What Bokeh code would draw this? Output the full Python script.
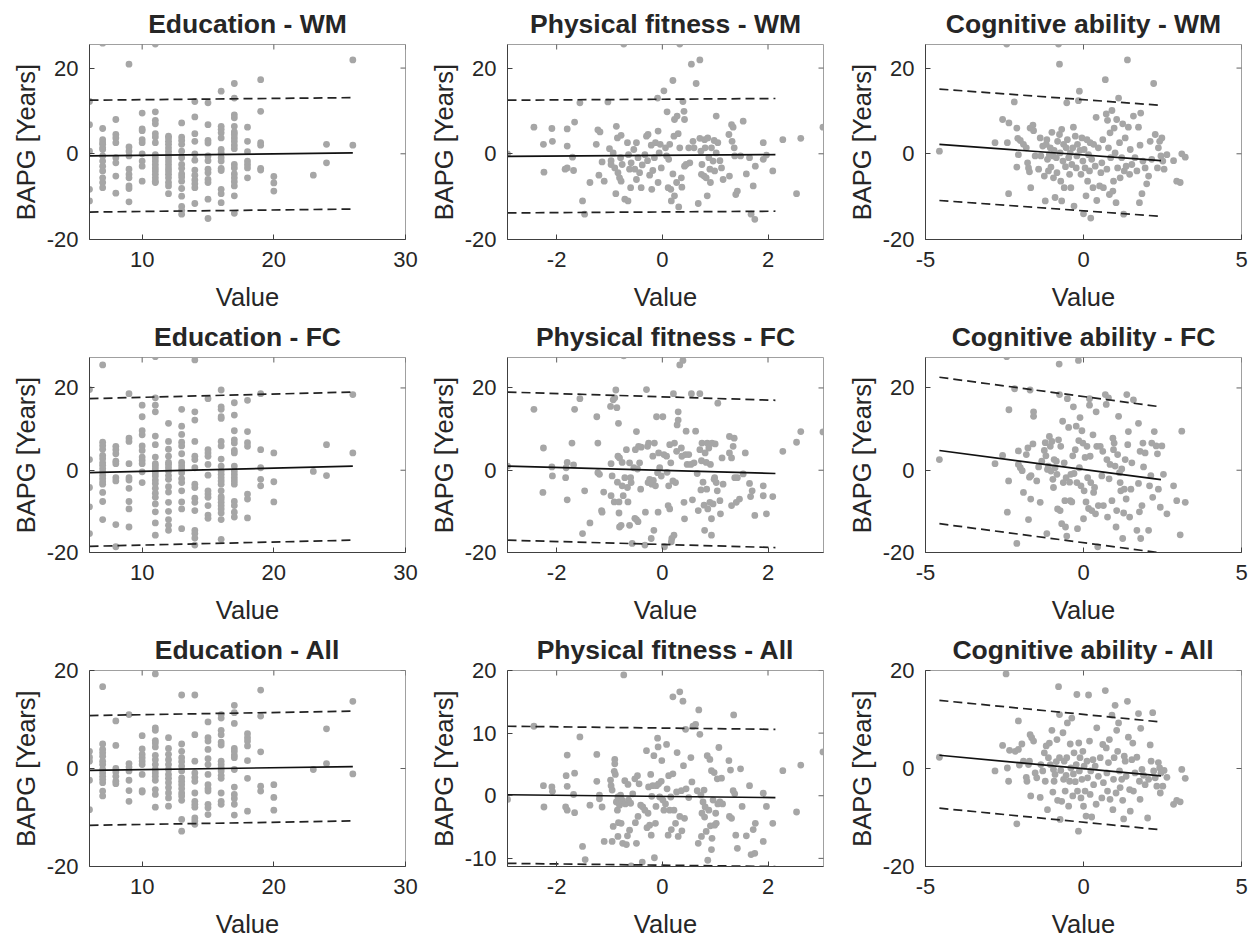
import math
from bokeh.plotting import figure
from bokeh.layouts import gridplot
from bokeh.models import FixedTicker, Range1d
from bokeh.embed import file_html
from bokeh.resources import INLINE

# ---------------- data ----------------
# Education panels: y values grouped by years of education (x)
edu_wm_cols = {
    6: [12.2, 6.8, 0.6, -8.3, -11.0],
    7: [25.8, 5.9, 3.3, 2.6, 2.2, 1.4, 1.0, -0.5, -1.7, -2.9, -4.0, -5.6, -6.7, -7.9],
    8: [8.0, 4.5, 3.7, 2.6, -0.9, -2.1, -5.2, -9.2],
    9: [20.9, 1.6, 0.6, -0.5, -3.6, -4.8, -5.6, -7.5, -8.1, -11.2],
    10: [9.5, 5.8, 5.4, 3.3, 2.6, 0.0, -1.7, -2.9, -6.4],
    11: [25.6, 9.8, 7.8, 7.0, 4.7, 3.9, 2.6, -0.2, -0.9, -1.7, -2.5, -3.3, -4.0, -4.8, -5.6, -6.4, -6.7],
    12: [4.1, 3.7, 2.9, 2.2, 1.4, 0.6, -0.2, -0.9, -1.7, -2.5, -3.3, -4.0, -4.8, -5.6, -6.7, -7.5, -9.3],
    13: [7.2, 3.9, 3.1, 2.2, 0.6, -0.9, -2.5, -3.4, -4.7, -5.4, -6.4, -8.1, -9.9, -12.3, -13.2, -14.1],
    14: [12.2, 8.6, 4.7, 2.9, 0.0, -1.5, -3.8, -5.0, -6.1, -7.0, -7.9, -11.6],
    15: [11.9, 6.8, 3.1, 2.5, -0.5, -1.6, -3.6, -4.4, -6.0, -6.7, -10.6, -15.1],
    16: [14.6, 6.4, 5.7, 4.9, 3.7, 1.0, 0.2, -0.9, -1.7, -3.4, -3.9, -8.3, -9.3, -11.4],
    17: [16.4, 13.0, 9.1, 8.4, 6.4, 5.1, 4.5, 3.7, 2.9, 2.0, 1.2, -2.5, -3.3, -4.7, -5.6, -6.5, -7.5, -9.8, -13.9],
    18: [6.2, 2.9, 0.5, -1.7, -2.5, -3.3, -5.6],
    19: [17.3, 9.9, 2.6, 2.0, -3.4, -3.8],
    20: [-5.3, -6.8, -8.7],
    23: [-5.0],
    24: [2.2, -2.1],
    26: [21.9, 2.0],
}
edu_fc_cols = {
    6: [19.6, 2.6, -4.2, -8.9, -15.4],
    7: [25.6, 6.8, 6.0, 5.1, 3.6, 2.8, 1.8, 1.2, 0.4, -0.4, -1.2, -2.0, -2.8, -3.4, -5.4, -7.6, -12.0],
    8: [5.8, 5.0, 4.0, 2.2, 1.6, -1.8, -2.6, -13.2, -18.6],
    9: [18.6, 7.8, 7.0, 1.6, -1.8, -2.4, -4.4, -7.6, -9.4, -13.8],
    10: [15.8, 13.0, 9.6, 8.6, 5.9, 4.8, 3.2, 2.4, 1.6, -0.4, -3.0],
    11: [27.6, 17.6, 15.8, 14.2, 8.3, 6.2, 3.2, 1.6, 1.0, 0.3, -0.6, -1.4, -2.4, -3.2, -4.4, -5.6, -6.6, -8.2, -10.1, -12.8, -15.8],
    12: [11.4, 7.0, 5.1, 3.4, 1.9, 1.4, 0.6, -0.2, -1.3, -2.2, -4.0, -5.3, -7.8, -10.0, -12.0, -13.4, -14.6],
    13: [14.8, 10.7, 8.7, 6.8, 5.9, 4.0, 1.9, 1.1, 0.3, -0.6, -2.1, -3.0, -5.0, -7.7, -9.4, -14.2],
    14: [26.8, 14.2, 12.2, 7.0, 3.4, 2.6, 0.6, -3.4, -4.2, -6.8, -7.8, -9.8, -14.6, -15.4, -16.5, -18.2],
    15: [17.4, 5.0, 4.2, 3.4, 1.4, -1.2, -5.0, -5.8, -6.6, -8.6, -10.9, -11.7],
    16: [19.5, 15.4, 14.8, 13.0, 12.6, 7.0, 5.9, 2.7, 1.0, -0.2, -1.0, -1.8, -2.6, -3.4, -5.0, -6.4, -7.0, -7.8, -8.6, -9.4, -10.4, -12.0, -16.8],
    17: [16.4, 13.4, 9.6, 7.4, 6.6, 4.8, 4.2, 1.0, -0.2, -1.0, -1.8, -2.6, -3.4, -7.6, -8.6, -10.2, -11.4],
    18: [17.0, 9.4, 6.7, 5.8, -5.8, -7.0, -11.6],
    19: [18.6, 5.0, 0.6, -2.2, -3.8],
    20: [4.2, -2.8, -7.7],
    23: [-0.3],
    24: [6.2, -1.3],
    26: [18.4, 4.2],
}
edu_all_cols = {
    6: [3.5, 2.3, 1.5, -2.4, -8.4],
    7: [16.7, 5.0, 3.9, 3.2, 2.5, 1.5, 0.8, -0.2, -0.9, -1.6, -2.2, -2.9, -4.6, -5.6],
    8: [9.7, 4.7, 0.0, -0.7, -1.6, -2.6, -3.1],
    9: [11.0, 1.0, 0.3, -0.5, -2.4, -4.5, -6.7],
    10: [6.7, 4.0, 2.9, 2.2, 1.5, 0.8, -1.2, -4.5, -4.8],
    11: [19.3, 8.3, 7.8, 5.7, 5.2, 4.4, 2.7, 1.8, 0.8, -0.2, -0.9, -1.6, -2.4, -4.3, -5.3, -7.9],
    12: [6.3, 4.1, 2.9, 1.8, 0.8, -0.2, -1.2, -2.0, -2.9, -3.9, -5.0, -6.0, -7.7],
    13: [15.0, 5.0, 3.5, 2.2, 1.4, 0.5, -0.5, -1.9, -2.6, -3.3, -4.1, -5.0, -5.6, -6.5, -10.4, -12.8],
    14: [15.0, 6.9, 1.5, -0.9, -1.8, -2.6, -5.0, -6.7, -7.3, -7.9, -10.1, -10.7, -11.4],
    15: [9.5, 6.3, 5.6, 3.9, 2.0, 0.8, -1.2, -3.3, -4.1, -4.6, -7.3, -8.0, -9.4],
    16: [11.0, 10.3, 7.8, 6.9, 5.4, 4.8, 1.5, 0.8, 0.1, -0.5, -1.4, -2.0, -5.0, -6.7, -7.3],
    17: [12.9, 11.4, 9.2, 4.1, 3.5, 2.7, 2.2, -0.2, -3.8, -5.3, -6.1, -7.3, -9.5],
    18: [7.1, 6.3, 5.6, 4.6, 1.6, -2.0, -8.7],
    19: [16.0, 10.7, 3.4, -3.6, -4.6],
    20: [-3.3, -5.9, -8.5],
    23: [-0.2],
    24: [8.1, 1.0],
    26: [13.7, -1.1],
}

# Physical fitness panels: (value, BAPG)
phys_wm_pts = [
    (-2.93, 0.0), (-2.43, 6.2), (-2.25, 2.2), (-2.24, -4.3), (-2.09, 5.9), (-2.08, 2.9), (-1.80, 5.8), (-1.80, 1.8),
    (-1.84, -3.6), (-1.80, -3.3), (-1.70, -0.8), (-1.68, -3.9), (-1.66, 7.4), (-1.56, 11.9), (-1.51, -11.0), (-1.47, -14.1),
    (-1.37, -6.7), (-1.25, 2.2), (-1.22, 5.6), (-1.18, 5.1), (-1.20, -5.0), (-1.14, -1.9), (-1.10, -6.4), (-1.03, 12.1),
    (-1.00, 1.2), (-0.97, -1.6), (-0.93, 0.2), (-0.97, -2.5), (-0.90, -3.3), (-0.87, 6.4), (-0.88, -9.3), (-0.85, 3.7),
    (-0.84, -4.4), (-0.81, -5.6), (-0.79, -0.9), (-0.78, 4.3), (-0.78, -6.4), (-0.76, -2.5), (-0.73, 25.6), (-0.71, -10.6),
    (-0.66, 2.6), (-0.65, -11.0), (-0.64, -0.2), (-0.62, -3.6), (-0.60, -7.9), (-0.59, -2.1), (-0.54, 1.0), (-0.52, -3.6),
    (-0.49, 2.6), (-0.49, -6.0), (-0.46, -0.9), (-0.43, -4.4), (-0.40, -7.9), (-0.38, -2.6), (-0.33, -0.2), (-0.30, 4.1),
    (-0.28, -1.6), (-0.27, 4.5), (-0.24, -5.0), (-0.21, 2.0), (-0.20, -8.3), (-0.18, -3.9), (-0.15, -0.9), (-0.13, 2.6),
    (-0.09, 13.0), (-0.08, 5.3), (-0.08, -6.7), (-0.06, 0.2), (-0.04, 2.2), (-0.02, -3.3), (0.03, 14.7), (0.06, 1.4),
    (0.08, -0.5), (0.09, 9.8), (0.11, -7.9), (0.12, -1.3), (0.14, 2.2), (0.16, -8.3), (0.17, -11.0), (0.20, 17.1),
    (0.20, -4.7), (0.22, 4.1), (0.23, 8.0), (0.23, -9.8), (0.27, -6.7), (0.28, 8.8), (0.30, 4.7), (0.31, -12.4),
    (0.33, 25.6), (0.33, 1.4), (0.36, -5.6), (0.37, -7.8), (0.39, 12.2), (0.41, 9.9), (0.42, 8.0), (0.42, -2.9),
    (0.45, -2.5), (0.50, 1.4), (0.52, -2.1), (0.55, 20.9), (0.58, 2.9), (0.60, 1.4), (0.64, 16.4), (0.68, -11.6),
    (0.71, 21.9), (0.71, 3.6), (0.73, 0.6), (0.74, -4.8), (0.75, -2.5), (0.79, -5.2), (0.80, 3.3), (0.81, 1.4),
    (0.83, -5.6), (0.85, -9.8), (0.86, 3.7), (0.88, -0.9), (0.90, -3.6), (0.91, -6.7), (0.93, 1.4), (0.96, -1.7),
    (0.98, 3.1), (0.99, -4.0), (1.02, 8.8), (1.02, 0.2), (1.05, 2.6), (1.09, -1.6), (1.12, -3.3), (1.15, -6.0),
    (1.26, 4.5), (1.27, -5.2), (1.31, 6.8), (1.32, 2.9), (1.34, 6.2), (1.36, 1.4), (1.37, -0.5), (1.39, -9.5),
    (1.42, -8.7), (1.53, 7.6), (1.48, -0.5), (1.59, -4.7), (1.65, -0.9), (1.68, -14.1), (1.72, -7.5), (1.75, -15.3),
    (1.76, -2.9), (1.91, 2.6), (1.91, -1.3), (1.97, -0.3), (2.09, -4.0), (2.28, 3.3), (2.54, -9.3), (2.62, 3.6),
    (3.04, 6.2),
]
phys_fc_pts = [
    (-2.93, 1.0), (-2.43, 14.8), (-2.25, 5.4), (-2.26, -5.4), (-2.09, 0.8), (-2.08, -1.4), (-1.82, 0.6), (-1.80, 1.9),
    (-1.83, -1.8), (-1.80, -7.2), (-1.71, 6.6), (-1.68, 1.3), (-1.66, 14.8), (-1.56, 17.4), (-1.51, -15.4), (-1.47, -5.0),
    (-1.37, -12.8), (-1.22, 6.6), (-1.24, 13.0), (-1.22, -0.6), (-1.19, -1.0), (-1.15, -9.8), (-1.14, -10.2), (-1.11, -5.3),
    (-0.98, 15.5), (-0.97, 1.6), (-0.95, -1.4), (-0.97, -6.2), (-0.93, 17.1), (-0.91, -7.7), (-0.90, 17.6), (-0.88, 19.5),
    (-0.86, 15.2), (-0.85, -2.9), (-0.84, 3.4), (-0.83, 11.4), (-0.82, -7.7), (-0.82, -10.4), (-0.81, 3.0), (-0.81, -13.8),
    (-0.78, -13.4), (-0.76, 1.9), (-0.76, -3.8), (-0.74, -6.2), (-0.73, 27.8), (-0.71, -1.8), (-0.68, 5.0), (-0.66, -4.2),
    (-0.65, -7.7), (-0.62, 1.8), (-0.62, -13.4), (-0.60, -1.8), (-0.59, -3.0), (-0.57, -17.8), (-0.54, 0.6), (-0.52, -11.7),
    (-0.51, 5.0), (-0.49, 9.4), (-0.49, -12.0), (-0.47, 0.3), (-0.46, -12.5), (-0.45, 5.8), (-0.43, 1.8), (-0.41, -4.6),
    (-0.40, 5.6), (-0.33, -18.2), (-0.32, -10.2), (-0.30, 19.6), (-0.28, 5.8), (-0.27, -3.0), (-0.26, 6.6), (-0.24, -2.2),
    (-0.21, -16.6), (-0.20, -3.4), (-0.18, 3.4), (-0.17, -2.5), (-0.16, -14.6), (-0.15, 6.6), (-0.13, -3.8), (-0.11, 13.0),
    (-0.09, -0.6), (-0.08, -10.2), (-0.07, 4.2), (-0.05, 0.6), (-0.02, -1.4), (0.01, 13.0), (0.03, 3.8), (0.04, -18.6),
    (0.08, 3.4), (0.09, -0.5), (0.11, -8.6), (0.12, -3.8), (0.14, 6.2), (0.14, -9.4), (0.16, 1.8), (0.17, -17.4),
    (0.18, -16.6), (0.20, -2.6), (0.21, 18.6), (0.22, -15.8), (0.23, 6.6), (0.25, -3.0), (0.27, 4.6), (0.28, 11.0),
    (0.30, 14.2), (0.30, 12.2), (0.33, 25.6), (0.36, 5.4), (0.37, 3.4), (0.39, 26.7), (0.41, -7.8), (0.42, -11.8),
    (0.44, 3.8), (0.45, 9.5), (0.47, 1.4), (0.50, 3.8), (0.54, 1.4), (0.55, 18.6), (0.57, -7.2), (0.60, 1.8),
    (0.63, 9.5), (0.66, -0.8), (0.68, -9.8), (0.71, 18.6), (0.71, 5.0), (0.73, -4.8), (0.74, 2.3), (0.75, 6.6),
    (0.77, -2.9), (0.79, -8.5), (0.80, -14.6), (0.81, 4.2), (0.83, 1.9), (0.84, -4.6), (0.85, 6.6), (0.86, -9.4),
    (0.88, 5.4), (0.90, -7.8), (0.91, 1.4), (0.93, -15.8), (0.93, -11.8), (0.94, 6.6), (0.96, -8.2), (0.98, -2.2),
    (0.99, -1.8), (1.00, 6.4), (1.02, -3.0), (1.04, -5.0), (1.05, 16.3), (1.09, -7.4), (1.10, -10.6), (1.13, 3.0),
    (1.15, -3.4), (1.27, 8.2), (1.27, 4.2), (1.31, 3.0), (1.31, -8.6), (1.34, 5.8), (1.36, 7.8), (1.37, -1.8),
    (1.40, -7.8), (1.42, -1.8), (1.46, -7.0), (1.53, -0.9), (1.57, 4.2), (1.65, -3.2), (1.67, -6.4), (1.70, -5.0),
    (1.75, -11.0), (1.91, -3.8), (1.91, -6.2), (1.97, -10.6), (2.09, -6.4), (2.28, 4.6), (2.54, 6.8), (2.62, 9.4),
    (3.04, 9.3),
]
phys_all_pts = [
    (-2.93, -0.6), (-2.43, 11.1), (-2.25, 1.6), (-2.24, -1.8), (-2.09, 1.4), (-2.08, 0.7), (-1.80, 6.5), (-1.82, 3.2),
    (-1.80, 1.5), (-1.83, -1.8), (-1.80, -2.3), (-1.68, 0.2), (-1.66, -2.7), (-1.66, 3.6), (-1.56, 9.4), (-1.51, -8.1),
    (-1.46, -10.2), (-1.37, -1.5), (-1.24, 6.6), (-1.24, 2.3), (-1.19, 0.1), (-1.19, -0.5), (-1.14, -1.8), (-1.10, -7.3),
    (-0.98, 2.5), (-0.97, 1.6), (-0.95, 0.9), (-0.95, -7.3), (-0.93, -4.9), (-0.91, 3.9), (-0.90, 5.8), (-0.90, 5.1),
    (-0.89, 3.4), (-0.87, -1.0), (-0.85, -2.3), (-0.84, -0.2), (-0.84, -6.5), (-0.83, -4.3), (-0.81, -1.5), (-0.79, 0.1),
    (-0.78, -4.4), (-0.76, -0.7), (-0.75, -7.6), (-0.73, 19.3), (-0.71, 2.4), (-0.70, -1.3), (-0.68, -7.8), (-0.66, -6.4),
    (-0.65, 1.8), (-0.64, -0.7), (-0.62, -5.5), (-0.60, -1.2), (-0.59, -11.2), (-0.56, 0.3), (-0.52, 2.7), (-0.51, -4.3),
    (-0.49, -7.6), (-0.47, 3.2), (-0.46, -3.3), (-0.44, 1.9), (-0.41, -1.5), (-0.38, -10.6), (-0.37, -1.8), (-0.33, -2.3),
    (-0.30, 7.2), (-0.29, -5.1), (-0.27, -2.8), (-0.26, 1.4), (-0.24, -4.7), (-0.22, 3.4), (-0.21, -6.3), (-0.20, -0.1),
    (-0.18, 1.6), (-0.16, 6.4), (-0.15, -9.9), (-0.13, -4.4), (-0.12, -1.7), (-0.11, 1.6), (-0.09, 9.2), (-0.08, 7.8),
    (-0.07, 1.9), (-0.05, -0.2), (-0.02, 2.3), (-0.01, 5.6), (0.01, -0.7), (0.03, -2.3), (0.06, -1.3), (0.08, 8.2),
    (0.09, 1.1), (0.11, -6.3), (0.12, 3.2), (0.14, -2.3), (0.16, -0.2), (0.17, -5.4), (0.20, 15.8), (0.20, 3.5),
    (0.22, -2.3), (0.25, -4.4), (0.27, 0.6), (0.28, 6.9), (0.30, -6.5), (0.33, 16.6), (0.33, -3.3), (0.36, 0.8),
    (0.37, -5.6), (0.39, 15.1), (0.40, 4.8), (0.42, -3.6), (0.44, 10.6), (0.45, 1.1), (0.50, -0.3), (0.54, 6.1),
    (0.56, 2.2), (0.58, 11.1), (0.63, 11.4), (0.66, 0.8), (0.68, -7.6), (0.69, 13.7), (0.71, 9.8), (0.73, 0.1),
    (0.74, -6.5), (0.75, -2.8), (0.77, -1.0), (0.79, 0.9), (0.80, -3.4), (0.81, -1.8), (0.83, -5.7), (0.85, 6.4),
    (0.86, -10.3), (0.88, -2.3), (0.90, 5.8), (0.91, -4.8), (0.93, 4.0), (0.93, -8.6), (0.94, -6.8), (0.96, -0.7),
    (0.98, 3.7), (0.99, -4.7), (1.01, -2.8), (1.02, -4.4), (1.04, 2.7), (1.05, -1.3), (1.07, 7.7), (1.09, -1.0),
    (1.12, 2.8), (1.14, -1.3), (1.26, 5.6), (1.27, -3.3), (1.29, 4.1), (1.31, -3.6), (1.34, 0.8), (1.35, 12.9),
    (1.37, 0.3), (1.39, -6.3), (1.42, -8.4), (1.48, 4.3), (1.51, -1.7), (1.59, -6.4), (1.65, 1.6), (1.68, -9.4),
    (1.72, -5.4), (1.75, -9.2), (1.76, -4.4), (1.91, 0.4), (1.91, -7.3), (1.97, -1.7), (2.09, -4.4), (2.28, 4.0),
    (2.54, -2.6), (2.62, 4.9), (3.04, 7.0),
]

# Cognitive ability panels: (value, BAPG)
cog_wm_pts = [
    (-4.56, 0.6), (-2.80, 2.6), (-2.56, 8.0), (-2.43, 25.6), (-2.36, 7.2), (-2.37, -9.3), (-2.41, 2.6), (-2.19, 12.1),
    (-2.11, 6.0), (-2.11, -3.1), (-2.08, 3.6), (-2.06, -0.2), (-2.00, 3.1), (-1.90, 2.2), (-1.81, 1.4), (-1.77, -2.1),
    (-1.74, -3.3), (-1.71, -4.2), (-1.69, 6.0), (-1.67, -7.9), (-1.60, 6.7), (-1.58, 5.4), (-1.53, -0.5), (-1.42, -3.6),
    (-1.37, 3.7), (-1.35, -0.5), (-1.29, 1.8), (-1.24, -5.2), (-1.21, -11.0), (-1.18, 2.2), (-1.16, 3.3), (-1.14, -1.3),
    (-1.11, -4.0), (-1.08, -0.2), (-1.05, 1.4), (-1.03, -3.1), (-1.00, 5.0), (-0.97, -0.5), (-0.95, -5.6), (-0.93, 0.8),
    (-0.90, -10.2), (-0.86, -0.9), (-0.84, -4.4), (-0.82, 2.9), (-0.79, 25.6), (-0.76, 20.9), (-0.76, 4.5), (-0.74, 0.2),
    (-0.72, -6.4), (-0.69, 5.7), (-0.69, -11.0), (-0.65, -1.7), (-0.63, 2.2), (-0.61, -7.9), (-0.57, -3.0), (-0.55, 1.4),
    (-0.53, 11.9), (-0.51, 3.3), (-0.47, -0.9), (-0.44, -4.8), (-0.42, 0.2), (-0.40, -7.9), (-0.37, -2.5), (-0.34, 1.4),
    (-0.32, 6.2), (-0.30, -12.2), (-0.26, 4.1), (-0.23, -3.3), (-0.21, -0.5), (-0.19, 2.2), (-0.16, 12.4), (-0.13, 14.6),
    (-0.11, 0.8), (-0.08, -4.8), (-0.05, 3.7), (-0.02, -1.7), (0.00, -14.0), (0.02, 1.0), (0.05, -3.3), (0.08, -9.8),
    (0.11, 3.3), (0.13, -6.4), (0.16, -0.2), (0.19, -4.0), (0.21, 2.6), (0.23, -15.0), (0.26, -1.3), (0.30, -7.9),
    (0.32, 2.2), (0.37, -2.9), (0.40, 8.5), (0.42, -10.9), (0.47, 1.4), (0.51, -7.5), (0.55, -4.4), (0.58, -2.1),
    (0.61, 3.3), (0.63, -7.9), (0.69, 17.3), (0.72, 9.3), (0.74, -3.6), (0.76, 7.8), (0.79, 1.4), (0.82, -9.5),
    (0.84, 4.9), (0.86, -0.9), (0.90, 10.1), (0.93, -8.7), (0.95, -6.4), (0.97, 6.0), (1.00, 0.2), (1.03, -11.4),
    (1.05, 8.0), (1.08, -3.3), (1.11, 13.0), (1.14, 2.6), (1.16, -5.6), (1.21, -0.9), (1.24, 7.0), (1.27, -14.1),
    (1.29, -4.0), (1.32, 3.7), (1.35, -2.9), (1.39, 21.9), (1.42, 6.2), (1.46, -4.8), (1.48, 1.0), (1.53, -2.5),
    (1.58, 8.8), (1.63, -0.9), (1.69, -4.0), (1.74, 6.2), (1.77, -11.4), (1.79, 2.0), (1.81, 9.5), (1.85, -9.3),
    (1.88, -1.7), (1.95, -3.3), (2.00, -7.0), (2.06, -5.2), (2.11, 2.9), (2.16, -1.3), (2.22, 16.4), (2.27, 4.5),
    (2.34, -3.3), (2.37, 1.4), (2.41, 2.9), (2.45, -0.5), (2.48, 3.7), (2.51, -1.7), (2.55, -3.6), (2.64, -0.2),
    (2.85, -1.6), (2.95, -6.4), (3.06, -6.7), (3.11, 0.0), (3.22, -0.8),
]
cog_fc_pts = [
    (-4.56, 2.6), (-2.80, 1.6), (-2.56, 3.6), (-2.43, 27.6), (-2.36, 14.7), (-2.37, -2.6), (-2.41, -10.2), (-2.11, -17.8),
    (-2.18, 19.8), (-2.06, 4.7), (-2.06, 1.4), (-2.00, 0.6), (-1.94, -0.1), (-1.90, -5.4), (-1.81, 3.8), (-1.76, 5.4),
    (-1.74, -12.0), (-1.71, -1.7), (-1.69, 19.5), (-1.67, -7.0), (-1.66, -1.3), (-1.60, 6.4), (-1.58, 14.2), (-1.58, 13.1),
    (-1.48, -2.6), (-1.42, 0.8), (-1.37, -7.8), (-1.32, 2.2), (-1.24, 4.8), (-1.21, 6.7), (-1.19, 3.5), (-1.16, -15.4),
    (-1.14, 0.2), (-1.11, 1.0), (-1.08, 8.2), (-1.05, 5.8), (-1.03, -0.2), (-1.00, 7.0), (-0.97, -2.2), (-0.95, -4.2),
    (-0.93, 2.6), (-0.90, 0.6), (-0.86, 2.2), (-0.84, -1.0), (-0.82, -9.4), (-0.79, 7.4), (-0.77, 25.8), (-0.76, 18.4),
    (-0.74, -9.8), (-0.72, 5.8), (-0.69, -13.0), (-0.66, 11.9), (-0.64, -3.0), (-0.61, 1.8), (-0.59, -7.4), (-0.57, -13.8),
    (-0.55, -1.8), (-0.53, -16.0), (-0.51, 17.4), (-0.47, 10.4), (-0.44, -2.9), (-0.42, -7.4), (-0.40, -1.0), (-0.37, -7.7),
    (-0.34, 3.5), (-0.32, 15.4), (-0.30, -0.8), (-0.26, 5.0), (-0.23, 10.7), (-0.21, -3.0), (-0.19, -14.2), (-0.16, 26.7),
    (-0.15, 7.2), (-0.13, 0.6), (-0.11, 12.8), (-0.08, -3.8), (-0.05, 9.6), (-0.02, 6.6), (0.00, -11.8), (0.02, -5.0),
    (0.05, 3.1), (0.08, -7.7), (0.11, 5.8), (0.13, -1.8), (0.16, -9.3), (0.19, 15.8), (0.19, 17.4), (0.21, 3.4),
    (0.23, -3.0), (0.26, -9.8), (0.30, 8.6), (0.32, -5.4), (0.35, -4.2), (0.38, -10.6), (0.40, 14.2), (0.42, 5.8),
    (0.45, -18.6), (0.47, -8.6), (0.53, 5.8), (0.58, -1.4), (0.61, 4.6), (0.63, -8.6), (0.69, 18.4), (0.72, 16.0),
    (0.74, 2.6), (0.76, -11.4), (0.79, 17.6), (0.81, -2.1), (0.84, 1.4), (0.90, -7.4), (0.93, 7.8), (0.95, 5.0),
    (0.97, 6.6), (1.00, 1.0), (1.03, -13.8), (1.05, -9.8), (1.08, 3.8), (1.11, 13.1), (1.14, -0.6), (1.16, -3.0),
    (1.18, -5.0), (1.21, 0.3), (1.24, -16.6), (1.27, -10.4), (1.29, -4.6), (1.32, 2.6), (1.35, -7.0), (1.37, 18.4),
    (1.40, 6.2), (1.42, 9.4), (1.46, -11.4), (1.50, -4.6), (1.53, 1.8), (1.58, 17.1), (1.69, -14.6), (1.74, 11.4),
    (1.74, -3.2), (1.77, -10.1), (1.79, 4.6), (1.81, -16.6), (1.85, -8.6), (1.88, 6.6), (1.90, 0.8), (1.95, 4.2),
    (2.06, -14.6), (2.09, -3.8), (2.13, -1.3), (2.16, 6.6), (2.19, -6.6), (2.24, 9.4), (2.30, 5.9), (2.34, 4.0),
    (2.37, -4.6), (2.43, -9.0), (2.48, 5.9), (2.53, -1.0), (2.64, -10.6), (2.85, -3.8), (2.95, -7.4), (3.06, -15.7),
    (3.11, 9.5), (3.22, -7.8),
]
cog_all_pts = [
    (-4.56, 2.3), (-2.80, -0.5), (-2.56, 4.7), (-2.45, 19.3), (-2.41, 0.1), (-2.37, -2.6), (-2.34, 3.7), (-2.16, 3.5),
    (-2.11, -11.3), (-2.06, 9.7), (-2.06, 3.9), (-2.03, 0.7), (-1.95, 5.0), (-1.90, 1.5), (-1.81, -1.8), (-1.79, -2.6),
    (-1.74, 0.8), (-1.71, 1.5), (-1.69, 6.9), (-1.67, -5.6), (-1.64, 6.3), (-1.58, 5.6), (-1.53, -0.9), (-1.48, -1.9),
    (-1.37, -5.9), (-1.35, 0.8), (-1.29, -0.5), (-1.24, 3.2), (-1.21, -2.6), (-1.18, 4.6), (-1.14, -8.4), (-1.11, 2.2),
    (-1.08, 5.2), (-1.05, 0.8), (-1.00, 7.8), (-0.97, -4.8), (-0.95, -0.2), (-0.93, -2.6), (-0.90, -1.2), (-0.86, 1.4),
    (-0.84, 5.9), (-0.82, -6.5), (-0.79, 16.7), (-0.76, 11.0), (-0.76, 2.2), (-0.74, -10.4), (-0.72, -0.4), (-0.69, -6.7),
    (-0.65, 7.3), (-0.63, -2.2), (-0.61, 1.5), (-0.58, -4.6), (-0.55, -1.4), (-0.53, 2.2), (-0.51, 9.3), (-0.47, -7.7),
    (-0.44, -2.6), (-0.42, 5.0), (-0.40, 0.1), (-0.37, 10.3), (-0.34, -5.6), (-0.32, -1.1), (-0.30, 3.2), (-0.26, -2.7),
    (-0.23, 0.8), (-0.21, 15.1), (-0.19, -4.6), (-0.16, -12.8), (-0.15, 5.2), (-0.13, -0.5), (-0.11, 2.2), (-0.08, -6.0),
    (-0.05, -2.2), (-0.02, 3.5), (0.00, -7.7), (0.02, 0.5), (0.05, -4.6), (0.08, -9.7), (0.11, 1.5), (0.13, -1.9),
    (0.16, 15.0), (0.19, 5.6), (0.21, -5.3), (0.23, -0.5), (0.26, -9.9), (0.30, 1.8), (0.32, -3.3), (0.37, 0.5),
    (0.40, -7.3), (0.42, 8.3), (0.47, -1.6), (0.53, 2.2), (0.58, -6.0), (0.61, 4.9), (0.63, -2.9), (0.69, 15.9),
    (0.72, 4.2), (0.74, -0.9), (0.76, -4.6), (0.79, 1.2), (0.82, 5.9), (0.84, -6.3), (0.90, 10.9), (0.93, -8.4),
    (0.95, -2.2), (0.97, 2.2), (1.00, 12.9), (1.03, -5.0), (1.05, 7.8), (1.08, 3.5), (1.11, 9.3), (1.14, -0.5),
    (1.16, -3.9), (1.21, -2.2), (1.24, -6.5), (1.27, -10.3), (1.29, 2.5), (1.32, 1.5), (1.35, -1.6), (1.39, 13.7),
    (1.42, 6.4), (1.46, -4.3), (1.48, -8.7), (1.53, 1.8), (1.56, 5.2), (1.58, -4.6), (1.63, -0.9), (1.69, 2.3),
    (1.74, 11.2), (1.77, -2.6), (1.79, -6.3), (1.81, 8.2), (1.85, -0.2), (1.90, -1.4), (1.95, -3.3), (2.03, -10.1),
    (2.06, -2.2), (2.11, 4.8), (2.14, 1.5), (2.19, 11.4), (2.22, -0.5), (2.27, -1.9), (2.32, -3.6), (2.37, 1.2),
    (2.41, 0.1), (2.43, -5.0), (2.45, -0.9), (2.51, -3.6), (2.55, -0.4), (2.64, -1.8), (2.85, -7.3), (2.95, -6.5),
    (3.06, -6.8), (3.11, -0.2), (3.22, -2.0),
]

# Regression fit (solid) and bounds (dashed): endpoints [x0, x1]
fit_x = {
    "edu": [6.0, 26.0], "phys": [-2.93, 2.14], "cog": [-4.56, 2.45],
}
fit_mid = {
    "edu_wm": [-0.5, 0.2], "phys_wm": [-0.6, -0.2], "cog_wm": [2.2, -1.6],
    "edu_fc": [-0.6, 1.0], "phys_fc": [1.0, -0.8], "cog_fc": [4.8, -2.3],
    "edu_all": [-0.4, 0.4], "phys_all": [0.16, -0.3], "cog_all": [2.7, -1.5],
}
fit_up = {
    "edu_wm": [12.5, 13.1], "phys_wm": [12.5, 12.9], "cog_wm": [15.1, 11.3],
    "edu_fc": [17.4, 19.0], "phys_fc": [19.0, 17.0], "cog_fc": [22.6, 15.4],
    "edu_all": [10.8, 11.7], "phys_all": [11.1, 10.6], "cog_all": [13.9, 9.5],
}
fit_lo = {
    "edu_wm": [-13.6, -12.9], "phys_wm": [-13.8, -13.4], "cog_wm": [-10.9, -14.6],
    "edu_fc": [-18.5, -17.0], "phys_fc": [-17.0, -18.8], "cog_fc": [-13.0, -20.1],
    "edu_all": [-11.6, -10.7], "phys_all": [-10.8, -11.3], "cog_all": [-8.1, -12.5],
}

titles = {
    "edu": "Education", "phys": "Physical fitness", "cog": "Cognitive ability",
}
groups = {"wm": "WM", "fc": "FC", "all": "All"}

x_limits = {"edu": (6, 30), "phys": (-2.93, 3.05), "cog": (-5, 5)}
x_ticks = {"edu": [10, 20, 30], "phys": [-2, 0, 2], "cog": [-5, 0, 5]}
y_limits = {
    "wm": (-20, 25.5), "fc": (-20, 27.4), "all": (-20, 20),
}
y_ticks = [-20, 0, 20]
phys_all_ylim = (-11.3, 20)
phys_all_yticks = [-10, 0, 10, 20]


def flatten_cols(cols):
    xs, ys = [], []
    for k, vals in cols.items():
        for v in vals:
            xs.append(k)
            ys.append(v)
    return xs, ys


points = {
    "edu_wm": flatten_cols(edu_wm_cols),
    "edu_fc": flatten_cols(edu_fc_cols),
    "edu_all": flatten_cols(edu_all_cols),
    "phys_wm": tuple(map(list, zip(*phys_wm_pts))),
    "phys_fc": tuple(map(list, zip(*phys_fc_pts))),
    "phys_all": tuple(map(list, zip(*phys_all_pts))),
    "cog_wm": tuple(map(list, zip(*cog_wm_pts))),
    "cog_fc": tuple(map(list, zip(*cog_fc_pts))),
    "cog_all": tuple(map(list, zip(*cog_all_pts))),
}

FONT = "Liberation Sans"
TXT = "#262626"
DOT = "#a6a6a6"


def hyphen_labels(ticks):
    # MATLAB-style short hyphen for negative numbers
    return {t: (f"-{abs(t)}" if t < 0 else f"{t}") for t in ticks}


rows = []
for gi, g in enumerate(["wm", "fc", "all"]):
    row = []
    for vi, v in enumerate(["edu", "phys", "cog"]):
        key = f"{v}_{g}"
        w = 418 if vi < 2 else 419
        h = 313 if gi < 2 else 316
        top = 43 if gi != 1 else 44
        if key == "phys_all":
            ylim, yt = phys_all_ylim, phys_all_yticks
        else:
            ylim, yt = y_limits[g], y_ticks
        xlim, xt = x_limits[v], x_ticks[v]
        p = figure(width=w, height=h, output_backend="svg", toolbar_location=None,
                   x_range=Range1d(*xlim), y_range=Range1d(*ylim),
                   min_border_left=89, min_border_right=w - 89 - 316,
                   min_border_top=top, min_border_bottom=h - top - 197,
                   title=f"{titles[v]} - {groups[g]}")
        p.title.align = "center"
        p.title.text_font = FONT
        p.title.text_font_size = "26.5px"
        p.title.text_font_style = "bold"
        p.title.text_color = TXT
        p.title.standoff = 12
        p.grid.visible = False
        p.outline_line_color = "#a0a0a0"
        p.outline_line_width = 1
        p.background_fill_color = "white"
        p.border_fill_color = "white"

        for ax in (p.xaxis[0], p.yaxis[0]):
            ax.axis_line_color = "#404040"
            ax.major_tick_line_color = "#404040"
            ax.major_tick_in = 5
            ax.major_tick_out = 0
            ax.minor_tick_line_color = None
            ax.major_label_text_font = FONT
            ax.major_label_text_font_size = "22px"
            ax.major_label_text_color = TXT
            ax.axis_label_text_font = FONT
            ax.axis_label_text_font_size = "25.5px"
            ax.axis_label_text_font_style = "normal"
            ax.axis_label_text_color = TXT
        p.xaxis[0].ticker = FixedTicker(ticks=xt)
        p.yaxis[0].ticker = FixedTicker(ticks=yt)
        p.xaxis[0].major_label_overrides = hyphen_labels(xt)
        p.yaxis[0].major_label_overrides = hyphen_labels(yt)
        p.xaxis[0].axis_label = "Value"
        p.yaxis[0].axis_label = "BAPG [Years]"
        p.xaxis[0].major_label_standoff = 12
        p.yaxis[0].major_label_standoff = 11
        p.xaxis[0].axis_label_standoff = 13
        p.yaxis[0].axis_label_standoff = 4

        # mirrored inward ticks on top and right edges (dash markers clipped by frame)
        p.scatter(xt, [ylim[1]] * len(xt), marker="dash", angle=math.pi / 2,
                  size=10, line_color="#606060", line_width=1)
        p.scatter([xlim[1]] * len(yt), yt, marker="dash",
                  size=10, line_color="#606060", line_width=1)

        xs, ys = points[key]
        p.scatter(xs, ys, size=6.8, fill_color=DOT, line_color=None)
        fx = fit_x[v]
        p.line(fx, fit_up[key], line_color="#222222", line_width=1.7, line_dash="9 5")
        p.line(fx, fit_lo[key], line_color="#222222", line_width=1.7, line_dash="9 5")
        p.line(fx, fit_mid[key], line_color="#111111", line_width=1.7)
        row.append(p)
    rows.append(row)

grid = gridplot(rows, toolbar_location=None)
open("out.html", "w").write(file_html(grid, INLINE))
